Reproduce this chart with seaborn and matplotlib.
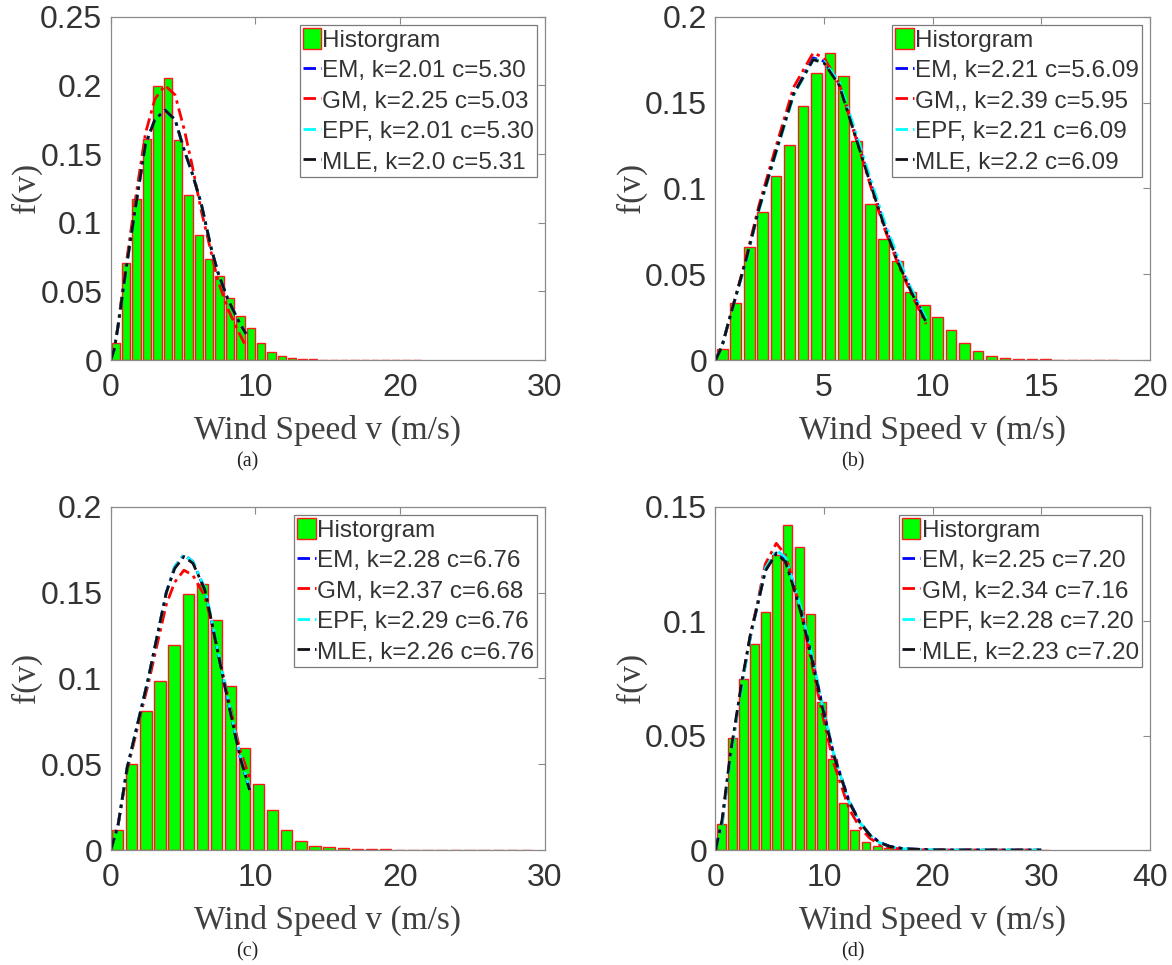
import numpy as np
import pandas as pd
import matplotlib
matplotlib.use("Agg")
import matplotlib.pyplot as plt
import seaborn as sns
from matplotlib.patches import Patch
from matplotlib.ticker import FuncFormatter

# ---------------- data ----------------
panel_tags = ["(a)", "(b)", "(c)", "(d)"]
bin_max = [21.5, 18.6, 29.2, 30.8]          # upper edge of 30 histogram bins
n_bins = 30

hist_a = [0.0124, 0.0708, 0.117, 0.1607, 0.1995, 0.2053, 0.1600, 0.1202, 0.0913, 0.0736,
          0.0614, 0.045, 0.032, 0.0234, 0.0122, 0.0056, 0.0029, 0.0017, 0.0009, 0.0005,
          0.0003, 0.0002, 0.0001, 0.0001, 0.0001, 0.0, 0.0, 0.0, 0.0, 0.0001]
hist_b = [0.0062, 0.0334, 0.0657, 0.0865, 0.107, 0.125, 0.148, 0.167, 0.179, 0.1656,
          0.1277, 0.091, 0.0707, 0.0575, 0.0394, 0.0323, 0.0249, 0.0173, 0.0101, 0.0051,
          0.0021, 0.0014, 0.0008, 0.0006, 0.0003, 0.0002, 0.0001, 0.0001, 0.0, 0.0001]
hist_c = [0.0117, 0.0499, 0.081, 0.0985, 0.1195, 0.149, 0.155, 0.134, 0.0955, 0.0592,
          0.0383, 0.0233, 0.0117, 0.0051, 0.0025, 0.0016, 0.001, 0.0006, 0.0004, 0.0003,
          0.0002, 0.0001, 0.0001, 0.0001, 0.0, 0.0, 0.0, 0.0, 0.0, 0.0001]
hist_d = [0.0112, 0.0488, 0.0747, 0.0899, 0.104, 0.129, 0.142, 0.1322, 0.103, 0.0645,
          0.0396, 0.0204, 0.0086, 0.0034, 0.0017, 0.0007, 0.0004, 0.0002, 0.0001, 0.0001,
          0.0, 0.0, 0.0, 0.0, 0.0, 0.0, 0.0, 0.0, 0.0, 0.0001]

# fitted curves
v_a = [0, 0.25, 0.5, 1.0, 1.65, 2.4, 3.05, 3.75, 4.45, 5.1, 5.6, 6.25, 6.95, 7.4, 8.1, 8.9, 9.35]
em_a = [0, 0.008, 0.024, 0.062, 0.107, 0.157, 0.175, 0.182, 0.175, 0.152, 0.137, 0.114, 0.081, 0.064, 0.044, 0.027, 0.019]
gm_a = [0, 0.008, 0.025, 0.065, 0.113, 0.165, 0.190, 0.200, 0.193, 0.167, 0.143, 0.109, 0.078, 0.058, 0.037, 0.019, 0.0097]
epf_a = [0, 0.008, 0.024, 0.062, 0.107, 0.157, 0.175, 0.182, 0.175, 0.152, 0.137, 0.114, 0.081, 0.064, 0.044, 0.027, 0.019]
mle_a = [0, 0.008, 0.024, 0.062, 0.107, 0.157, 0.175, 0.182, 0.175, 0.152, 0.137, 0.114, 0.081, 0.064, 0.044, 0.027, 0.019]

v_b = [0, 0.3, 0.6, 1.4, 2.0, 2.8, 3.6, 4.5, 5.0, 5.7, 6.4, 7.2, 7.8, 8.4, 9.0, 9.7]
em_b = [0, 0.008, 0.022, 0.058, 0.088, 0.122, 0.155, 0.176, 0.174, 0.161, 0.133, 0.101, 0.078, 0.058, 0.041, 0.023]
gm_b = [0, 0.008, 0.022, 0.059, 0.090, 0.125, 0.159, 0.179, 0.176, 0.161, 0.132, 0.099, 0.076, 0.056, 0.039, 0.021]
epf_b = [0, 0.008, 0.022, 0.057, 0.087, 0.121, 0.154, 0.175, 0.174, 0.162, 0.135, 0.103, 0.080, 0.060, 0.042, 0.024]
mle_b = [0, 0.008, 0.022, 0.058, 0.088, 0.122, 0.155, 0.175, 0.173, 0.160, 0.132, 0.100, 0.077, 0.057, 0.040, 0.022]

v_c = [0, 0.5, 1.13, 2.07, 2.6, 3.27, 3.84, 4.42, 5.06, 5.68, 6.49, 6.95, 7.87, 8.91, 9.6]
em_c = [0, 0.014, 0.0476, 0.081, 0.100, 0.127, 0.150, 0.165, 0.172, 0.168, 0.152, 0.134, 0.096, 0.055, 0.035]
gm_c = [0, 0.014, 0.046, 0.079, 0.097, 0.122, 0.143, 0.156, 0.163, 0.160, 0.148, 0.133, 0.098, 0.059, 0.042]
epf_c = [0, 0.014, 0.0476, 0.081, 0.100, 0.127, 0.150, 0.165, 0.172, 0.168, 0.153, 0.135, 0.097, 0.056, 0.036]
mle_c = [0, 0.014, 0.0476, 0.081, 0.100, 0.127, 0.150, 0.164, 0.171, 0.167, 0.152, 0.134, 0.096, 0.055, 0.035]

v_d = [0, 0.6, 1.37, 2.44, 3.21, 3.82, 4.59, 5.6, 6.43, 7.04, 7.97, 8.89, 9.81, 10.88, 12.3,
       13.3, 14.2, 15.15, 16.06, 17.3, 19.7, 22, 25, 28, 30]
em_d = [0, 0.012, 0.041, 0.073, 0.093, 0.106, 0.122, 0.1298, 0.127, 0.118, 0.103, 0.084, 0.064, 0.042, 0.0215,
        0.0122, 0.0068, 0.0033, 0.0016, 0.0006, 0.0001, 0, 0, 0, 0]
gm_d = [0, 0.011, 0.040, 0.073, 0.094, 0.107, 0.125, 0.134, 0.129, 0.119, 0.102, 0.081, 0.060, 0.038, 0.018,
        0.0098, 0.0052, 0.0023, 0.001, 0.0003, 0.0, 0, 0, 0, 0]
epf_d = [0, 0.011, 0.040, 0.072, 0.093, 0.106, 0.123, 0.131, 0.128, 0.119, 0.104, 0.085, 0.064, 0.042, 0.021,
         0.012, 0.0066, 0.0031, 0.0014, 0.0005, 0.0001, 0, 0, 0, 0]
mle_d = [0, 0.013, 0.042, 0.074, 0.094, 0.106, 0.122, 0.1296, 0.126, 0.117, 0.102, 0.083, 0.063, 0.0415, 0.021,
         0.012, 0.0066, 0.0032, 0.0015, 0.0006, 0.0001, 0, 0, 0, 0]

labels_a = ["EM, k=2.01 c=5.30", "GM, k=2.25 c=5.03", "EPF, k=2.01 c=5.30", "MLE, k=2.0 c=5.31"]
labels_b = ["EM, k=2.21 c=5.6.09", "GM,, k=2.39 c=5.95", "EPF, k=2.21 c=6.09", "MLE, k=2.2 c=6.09"]
labels_c = ["EM, k=2.28 c=6.76", "GM, k=2.37 c=6.68", "EPF, k=2.29 c=6.76", "MLE, k=2.26 c=6.76"]
labels_d = ["EM, k=2.25 c=7.20", "GM, k=2.34 c=7.16", "EPF, k=2.28 c=7.20", "MLE, k=2.23 c=7.20"]
hist_label = "Historgram"

x_limits = [30, 20, 30, 40]
x_tick_steps = [10, 5, 10, 10]
y_limits = [0.25, 0.2, 0.2, 0.15]

# ---------------- style ----------------
sns.set_theme(style="white")
sans = ["Liberation Sans", "DejaVu Sans"]
serif = ["Liberation Serif", "DejaVu Serif"]
plt.rcParams["font.family"] = sans

fig = plt.figure(figsize=(11.72, 9.65), dpi=100)
W, H = 1172, 965
ax_w, ax_h = 434.3, 343.3
ax_lefts = [110.7, 715.5, 110.7, 715.5]
ax_bottoms = [360, 360, 850, 850]

hists = [hist_a, hist_b, hist_c, hist_d]
curves = [(v_a, em_a, gm_a, epf_a, mle_a), (v_b, em_b, gm_b, epf_b, mle_b),
          (v_c, em_c, gm_c, epf_c, mle_c), (v_d, em_d, gm_d, epf_d, mle_d)]
labels = [labels_a, labels_b, labels_c, labels_d]
line_colors = ["#0000ff", "#ff0000", "#00ffff", "#101018"]
dash = (0, (4.5, 1.8, 1.2, 1.8))
tick_col = "#333333"
axis_col = "#8a8a8a"

fmt = FuncFormatter(lambda v, p: f"{v:g}")

for i in range(4):
    l = ax_lefts[i] / W
    b = 1 - ax_bottoms[i] / H
    ax = fig.add_axes([l, b, ax_w / W, ax_h / H])
    width = bin_max[i] / n_bins
    centers = [(j + 0.5) * width for j in range(n_bins)]
    df = pd.DataFrame({"v": centers, "f": hists[i]})
    sns.histplot(data=df, x="v", weights="f", bins=n_bins, binrange=(0, bin_max[i]),
                 shrink=0.8, stat="count", color="#00ff00", edgecolor="#ff1a1a",
                 linewidth=1.0, alpha=1.0, ax=ax)
    v, em, gm, epf, mle = curves[i]
    for ys, col, lab in zip([em, gm, epf, mle], line_colors, labels[i]):
        cdf = pd.DataFrame({"v": v, "f": ys})
        sns.lineplot(data=cdf, x="v", y="f", color=col, linestyle=dash, linewidth=2.0,
                     label=lab, ax=ax, sort=False, estimator=None, legend=False)
    ax.set_xlim(0, x_limits[i])
    ax.set_ylim(0, y_limits[i])
    ax.set_xticks(np.arange(0, x_limits[i] + 0.01, x_tick_steps[i]))
    ax.set_yticks(np.arange(0, y_limits[i] + 1e-9, 0.05))
    ax.xaxis.set_major_formatter(fmt)
    ax.yaxis.set_major_formatter(fmt)
    ax.tick_params(direction="in", top=True, right=True, length=5, width=0.8,
                   color=axis_col, labelsize=23, labelcolor=tick_col)
    ax.tick_params(axis="y", pad=6)
    ax.tick_params(axis="x", pad=9)
    for sp in ax.spines.values():
        sp.set_color(axis_col)
        sp.set_linewidth(0.9)
    ax.set_xlabel("Wind Speed v (m/s)", fontsize=24, family=serif, color="#404040")
    ax.set_ylabel("f(v)", fontsize=24, family=serif, color="#404040")
    ax.xaxis.set_label_coords(0.5, -0.16)
    ax.yaxis.set_label_coords(-0.158, 0.5)
    handles = [Patch(facecolor="#00ff00", edgecolor="#ff1a1a", linewidth=1.0)] + ax.get_lines()[:4]
    leg = ax.legend(handles=handles, labels=[hist_label] + labels[i], loc="upper right",
                    fontsize=17.5, frameon=True, fancybox=False, framealpha=1,
                    edgecolor="#7a7a7a", handlelength=0.75, handleheight=1.0,
                    handletextpad=0.06, labelspacing=0.26, borderpad=0.12,
                    borderaxespad=0.33)
    leg.get_frame().set_linewidth(0.9)
    for t in leg.get_texts():
        t.set_color(tick_col)
    cx = (ax_lefts[i] + 137) / W
    fig.text(cx, 1 - (ax_bottoms[i] + 102) / H, panel_tags[i], ha="center", va="center",
             fontsize=14.5, family=serif, color="#222222")

fig.savefig("out.png", dpi=100)
